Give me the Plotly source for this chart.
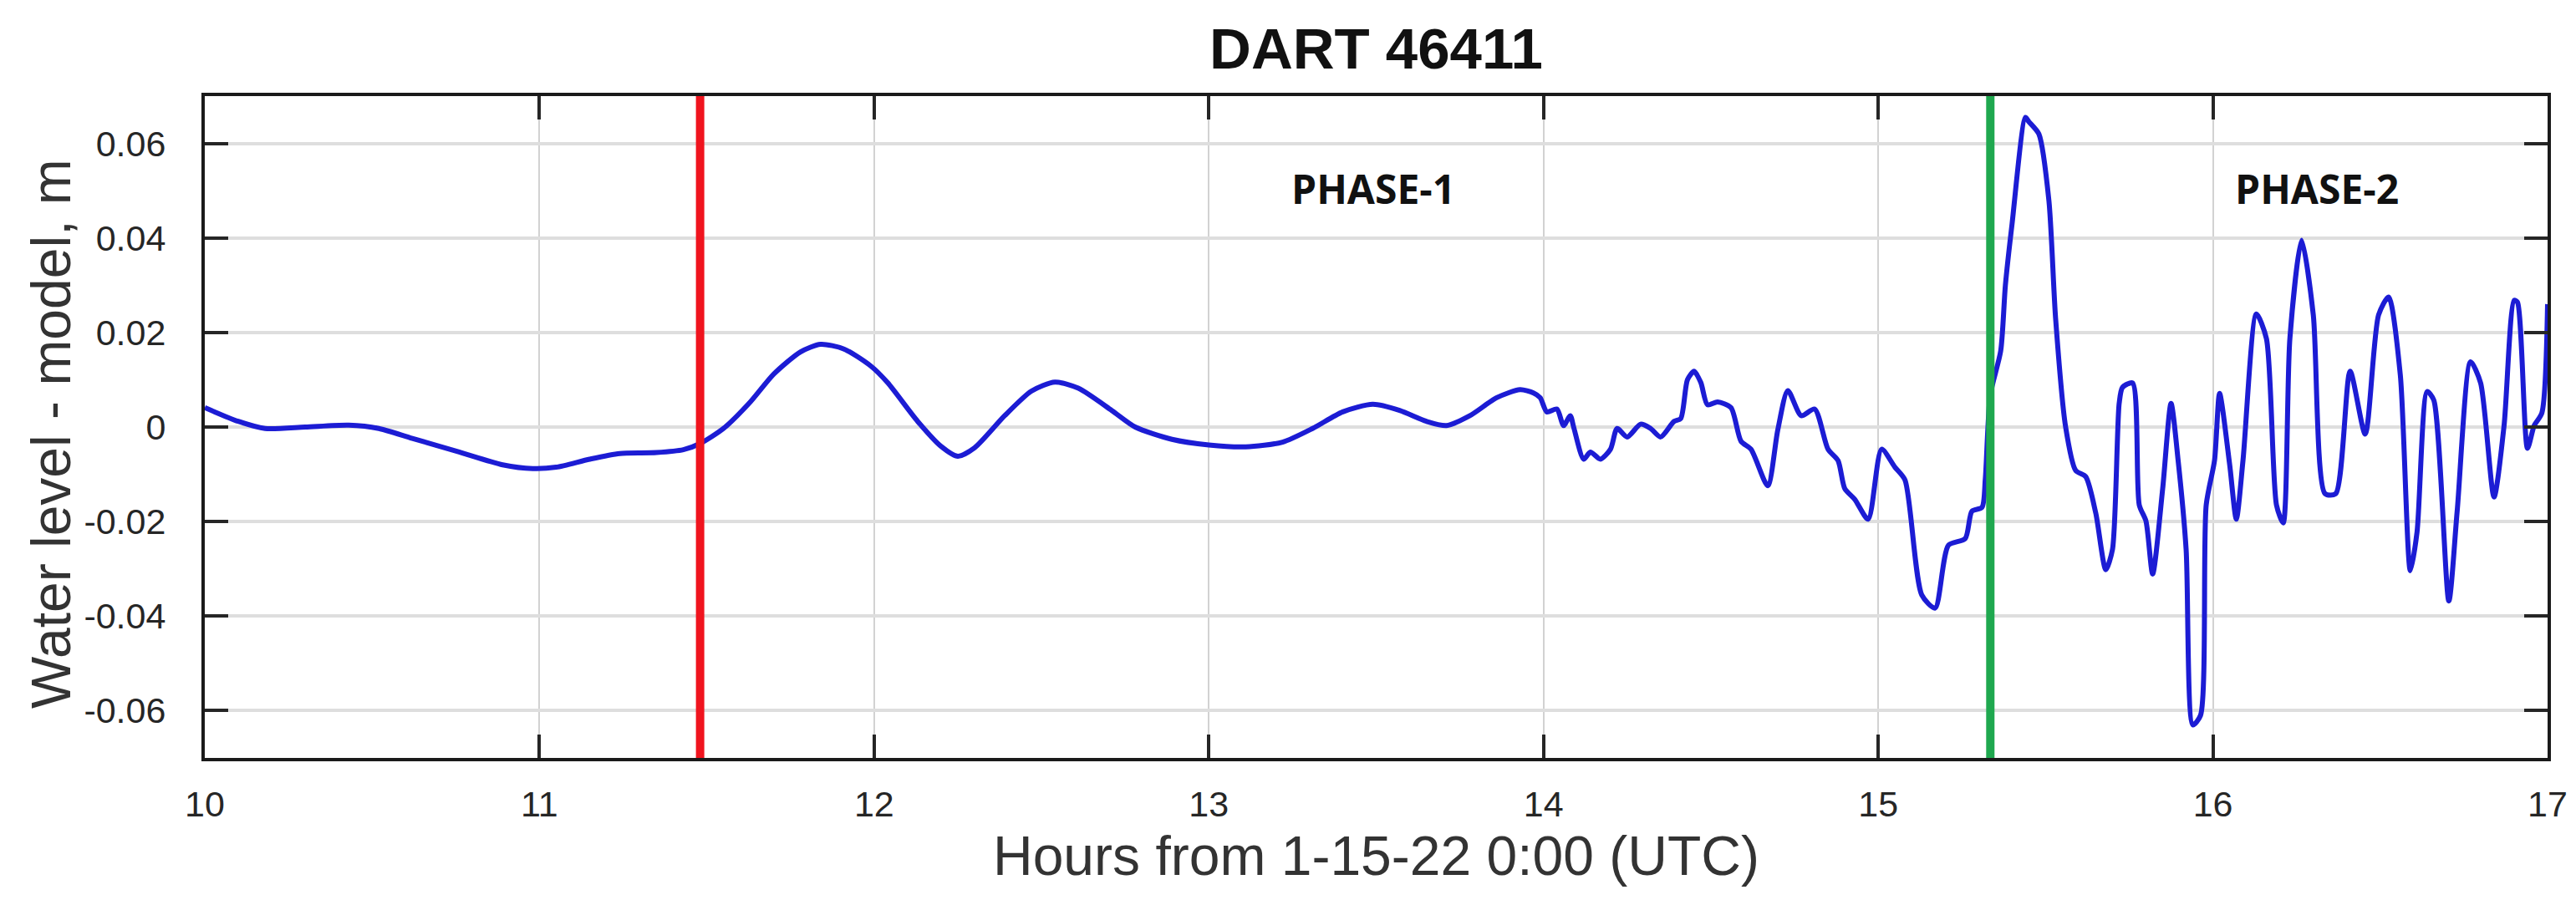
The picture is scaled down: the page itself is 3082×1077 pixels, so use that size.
import plotly.graph_objects as go

# ---- data ----
hours = [10.00, 10.10, 10.18, 10.30, 10.43, 10.52, 10.62, 10.76, 10.89, 10.98,
         11.05, 11.15, 11.24, 11.35, 11.43, 11.48, 11.55, 11.63, 11.70, 11.78,
         11.84, 11.91, 11.99, 12.04, 12.13, 12.20, 12.25, 12.30, 12.39, 12.47,
         12.54, 12.61, 12.71, 12.78, 12.89, 13.00, 13.11, 13.22, 13.31, 13.40,
         13.49, 13.57, 13.65, 13.71, 13.78, 13.86, 13.93, 13.97, 13.99, 14.01,
         14.04, 14.06, 14.08, 14.09, 14.12, 14.14, 14.17, 14.20, 14.22, 14.25,
         14.29, 14.32, 14.35, 14.39, 14.41, 14.43, 14.45, 14.47, 14.49, 14.52,
         14.56, 14.59, 14.62, 14.67, 14.70, 14.73, 14.77, 14.81, 14.85, 14.88,
         14.90, 14.93, 14.97, 15.01, 15.05, 15.08, 15.13, 15.17, 15.21, 15.26,
         15.28, 15.31, 15.32, 15.335, 15.366, 15.38, 15.40, 15.44, 15.45, 15.48,
         15.51, 15.53, 15.56, 15.59, 15.62, 15.65, 15.68, 15.70, 15.72, 15.73,
         15.76, 15.78, 15.80, 15.82, 15.85, 15.875, 15.896, 15.92, 15.94, 15.963,
         15.98, 16.005, 16.02, 16.05, 16.07, 16.09, 16.13, 16.16, 16.19, 16.21,
         16.23, 16.265, 16.30, 16.335, 16.367, 16.41, 16.455, 16.495, 16.525, 16.56,
         16.59, 16.61, 16.64, 16.66, 16.705, 16.73, 16.77, 16.80, 16.84, 16.87,
         16.90, 16.91, 16.94, 16.96, 16.983, 17.00]

level = [0.0041, 0.0012, -0.0003, 0.0000, 0.0004, -0.0003, -0.0024, -0.0053, -0.0080, -0.0088,
         -0.0085, -0.0068, -0.0056, -0.0054, -0.0048, -0.0035, -0.0003, 0.0053, 0.0112, 0.0159,
         0.0175, 0.0165, 0.0129, 0.0094, 0.0012, -0.0041, -0.0062, -0.0044, 0.0024, 0.0076,
         0.0095, 0.0082, 0.0035, 0.0000, -0.0026, -0.0038, -0.0042, -0.0032, -0.0003, 0.0032,
         0.0048, 0.0035, 0.0012, 0.0003, 0.0024, 0.0062, 0.0079, 0.0072, 0.0062, 0.0032,
         0.0038, 0.0003, 0.0024, 0.0000, -0.0068, -0.0053, -0.0068, -0.0047, -0.0003, -0.0021,
         0.0006, -0.0003, -0.0021, 0.0012, 0.0018, 0.0100, 0.0118, 0.0094, 0.0047, 0.0053,
         0.0041, -0.0030, -0.0047, -0.0124, -0.0006, 0.0077, 0.0024, 0.0038, -0.0047, -0.0071,
         -0.0130, -0.0153, -0.0195, -0.0047, -0.0085, -0.0112, -0.0355, -0.0383, -0.0250, -0.0236,
         -0.0178, -0.0170, -0.0110, 0.0068, 0.0161, 0.0300, 0.0430, 0.0655, 0.0646, 0.0620,
         0.0479, 0.0230, 0.0000, -0.0092, -0.0105, -0.0182, -0.0302, -0.0259, 0.0050, 0.0084,
         0.0093, -0.0165, -0.0199, -0.0311, -0.0130, 0.0050, -0.0070, -0.0259, -0.0630, -0.0610,
         -0.0165, -0.0070, 0.0071, -0.0079, -0.0195, -0.0070, 0.0239, 0.0187, -0.0165, -0.0203,
         0.0187, 0.0395, 0.0237, -0.0141, -0.0141, 0.0118, -0.0015, 0.0237, 0.0275, 0.0110,
         -0.0304, -0.0222, 0.0075, 0.0057, -0.0368, -0.0177, 0.0138, 0.0093, -0.0148, 0.0003,
         0.0268, 0.0264, -0.0045, 0.0003, 0.0030, 0.0260]

phase_start_hours = [11.48, 15.335]
phase_line_colors = ["#f0141e", "#1fa84f"]
phase_labels = ["PHASE-1", "PHASE-2"]
phase_label_hours = [13.49, 16.31]
phase_label_levels = [0.0505, 0.0505]

x_ticks = [10, 11, 12, 13, 14, 15, 16, 17]
y_ticks = [-0.06, -0.04, -0.02, 0, 0.02, 0.04, 0.06]
y_tick_text = ["-0.06", "-0.04", "-0.02", "0", "0.02", "0.04", "0.06"]
y_range = [-0.07, 0.07]
x_range = [10, 17]

W, H = 3082, 1077
ML, MR, MT, MB = 237, 42, 107, 178
PW, PH = W - ML - MR, H - MT - MB

fig = go.Figure()

fig.add_trace(go.Scatter(
    x=hours, y=level, mode="lines",
    line=dict(color="#1c1cd4", width=6, shape="spline", smoothing=0.7),
    showlegend=False, hoverinfo="skip"))

for h, c in zip(phase_start_hours, phase_line_colors):
    fig.add_trace(go.Scatter(
        x=[h, h], y=y_range, mode="lines",
        line=dict(color=c, width=10),
        showlegend=False, hoverinfo="skip"))

for txt, hx, ly in zip(phase_labels, phase_label_hours, phase_label_levels):
    fig.add_annotation(x=hx, y=ly, xref="x", yref="y", text=txt, showarrow=False,
                       font=dict(family="Open Sans", size=48, color="#111111", weight="bold"),
                       xanchor="center", yanchor="middle")

axis_font = dict(family="Liberation Sans, Arial, sans-serif", size=43, color="#262626")
title_font = dict(family="Liberation Sans, Arial, sans-serif", size=66, color="#333333")

# axis titles as annotations (positioned like the reference)
fig.add_annotation(xref="paper", yref="paper", x=0.5, y=-(1016 - (MT + PH)) / PH,
                   text="Hours from 1-15-22 0:00 (UTC)", showarrow=False,
                   xanchor="center", yanchor="middle", font=title_font)
fig.add_annotation(xref="paper", yref="paper", x=(53 - ML) / PW, y=0.49,
                   text="Water level - model, m", showarrow=False, textangle=-90,
                   xanchor="center", yanchor="middle", font=title_font)

fig.update_layout(
    width=W, height=H,
    margin=dict(l=ML, r=MR, t=MT, b=MB),
    paper_bgcolor="white", plot_bgcolor="white",
    title=dict(text="<b>DART 46411</b>", x=(ML + PW / 2) / W, xanchor="center",
               y=1 - 50 / H, yanchor="middle", yref="container",
               font=dict(family="Liberation Sans, Arial, sans-serif", size=69, color="#111111")),
    xaxis=dict(range=x_range, tickvals=x_ticks, ticks="inside", ticklen=28, tickwidth=4,
               tickcolor="#262626", showline=True, linecolor="#1a1a1a", linewidth=4,
               mirror="ticks", showgrid=True, gridcolor="#d2d2d2", gridwidth=2,
               zeroline=False, tickfont=axis_font, ticklabelstandoff=14),
    yaxis=dict(range=y_range, tickvals=y_ticks, ticktext=y_tick_text, ticks="inside",
               ticklen=28, tickwidth=4, tickcolor="#262626", showline=True,
               linecolor="#1a1a1a", linewidth=4, mirror="ticks", showgrid=True,
               gridcolor="#dedede", gridwidth=4, zeroline=False, tickfont=axis_font,
               ticklabelstandoff=34),
)

fig.write_html("out.html")
